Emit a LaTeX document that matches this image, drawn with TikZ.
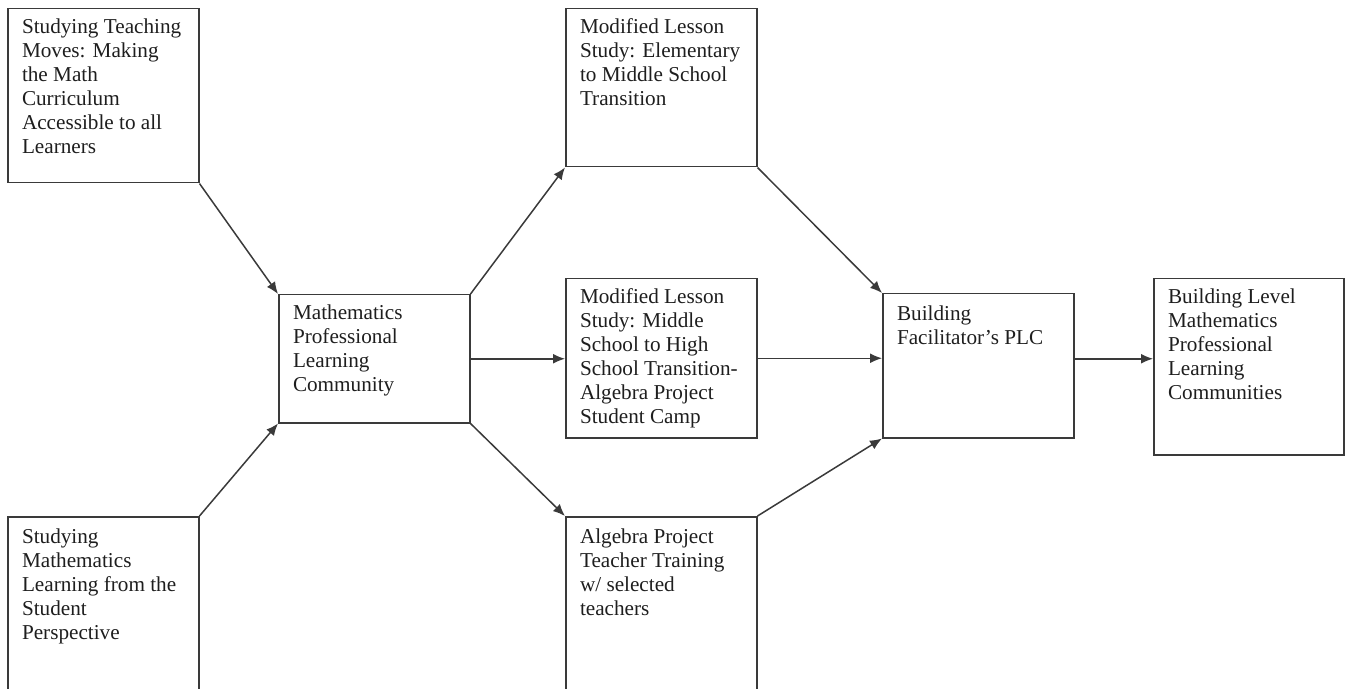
\documentclass[tikz,border=0pt]{standalone}
\usepackage{fontspec}
\setmainfont{Liberation Serif}
\usepackage{xcolor}
\usepackage{tikz}
\usetikzlibrary{arrows.meta}
\definecolor{edge}{HTML}{3A3A3A}
\definecolor{ink}{HTML}{1E1E1E}
\tikzset{
  box/.style={draw=edge, line width=0.75pt, inner sep=0pt, anchor=north west},
  lbl/.style={anchor=north west, align=left, text=ink, inner xsep=7.3pt, inner ysep=5pt,
    font=\fontsize{10.6}{12}\selectfont},
  arrow/.style={draw=edge, line width=0.75pt, -{Latex[length=6pt,width=5pt]}}
}

\begin{document}
\begin{tikzpicture}[x=0.5pt, y=-0.5pt]
  \useasboundingbox (0,0) rectangle (1347,689);
  \clip (0,0) rectangle (1347,689);

  % left column
  \node[box, minimum width=95.5pt, minimum height=87pt,
    label={[lbl]north west:Studying Teaching\\Moves: Making\\the Math\\Curriculum\\Accessible to all\\Learners}]
    (teach) at (7,8) {};
  \node[box, minimum width=95.5pt, minimum height=130pt,
    label={[lbl, inner ysep=6pt]north west:Studying\\Mathematics\\Learning from the\\Student\\Perspective}]
    (student) at (7,516) {};

  % centre
  \node[box, minimum width=95.5pt, minimum height=64pt,
    label={[lbl]north west:Mathematics\\Professional\\Learning\\Community}]
    (mplc) at (278,294) {};

  % lesson study column
  \node[box, minimum width=95.5pt, minimum height=79pt,
    label={[lbl]north west:Modified Lesson\\Study: Elementary\\to Middle School\\Transition}]
    (lsElem) at (565,8) {};
  \node[box, minimum width=95.5pt, minimum height=79.5pt,
    label={[lbl]north west:Modified Lesson\\Study: Middle\\School to High\\School Transition-\\Algebra Project\\Student Camp}]
    (lsHigh) at (565,278) {};
  \node[box, minimum width=95.5pt, minimum height=130pt,
    label={[lbl, inner ysep=6pt]north west:Algebra Project\\Teacher Training\\w/ selected\\teachers}]
    (apTrain) at (565,516) {};

  % right side
  \node[box, minimum width=95.5pt, minimum height=72pt,
    label={[lbl, inner ysep=6pt]north west:Building\\Facilitator’s PLC}]
    (facil) at (882,293) {};
  \node[box, minimum width=95pt, minimum height=88pt,
    label={[lbl]north west:Building Level\\Mathematics\\Professional\\Learning\\Communities}]
    (bldg) at (1153,278) {};

  \draw[arrow] (teach.south east) -- (mplc.north west);
  \draw[arrow] (student.north east) -- (mplc.south west);
  \draw[arrow] (mplc.north east) -- (lsElem.south west);
  \draw[arrow] (mplc.east) -- (mplc.east -| lsHigh.west);
  \draw[arrow] (mplc.south east) -- (apTrain.north west);
  \draw[arrow] (lsElem.south east) -- (facil.north west);
  \draw[arrow] (lsHigh.east) -- (lsHigh.east -| facil.west);
  \draw[arrow] (apTrain.north east) -- (facil.south west);
  \draw[arrow] (mplc.east -| facil.east) -- (mplc.east -| bldg.west);
\end{tikzpicture}
\end{document}
